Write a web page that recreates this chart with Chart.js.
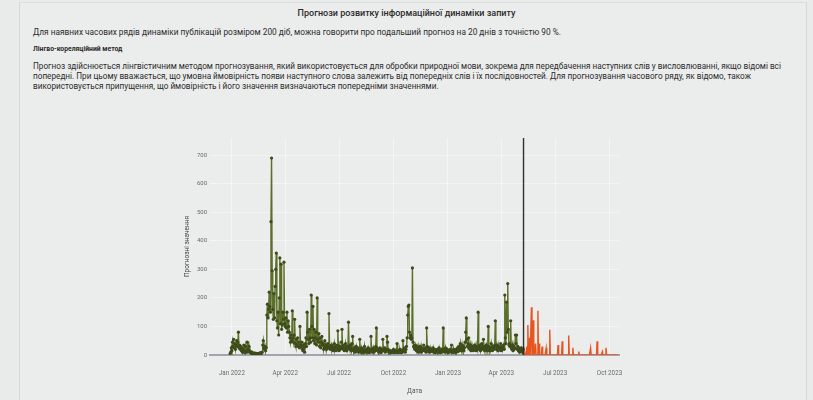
<!DOCTYPE html>
<html>
<head>
<meta charset="utf-8">
<script src="https://cdn.jsdelivr.net/npm/chart.js@4.4.1/dist/chart.umd.min.js"></script>
<style>
  body { margin:0; background:#e9eaea; width:813px; height:400px; overflow:hidden; font-family: Roboto, "Noto Sans", sans-serif; color:#2b2b2b; }
  .card { position:absolute; left:19px; top:2px; width:786px; height:398px; border-left:1px solid #d6d7d7; border-right:1px solid #d6d7d7; border-top:1px solid #dcdddd; background:#ebecec; }
  .t { position:absolute; white-space:nowrap; }
  #title { left:0; width:813px; text-align:center; top:8px; font-size:9px; font-weight:500; }
  #line1 { left:33px; top:27px; font-size:8.3px; }
  #method { left:33px; top:45px; font-size:6.8px; font-weight:700; }
  #para { left:33px; top:61px; font-size:8.2px; line-height:10px; }
  #wrap { position:absolute; left:160px; top:128px; width:480px; height:272px; }
</style>
</head>
<body>
<div class="card"></div>
<div class="t" id="title">Прогнози розвитку інформаційної динаміки запиту</div>
<div class="t" id="line1">Для наявних часових рядів динаміки публікацій розміром 200 діб, можна говорити про подальший прогноз на 20 днів з точністю 90 %.</div>
<div class="t" id="method">Лінгво-кореляційний метод</div>
<div class="t" id="para">Прогноз здійснюється лінгвістичним методом прогнозування, який використовується для обробки природної мови, зокрема для передбачення наступних слів у висловлюванні, якщо відомі всі<br>попередні. При цьому вважається, що умовна ймовірність появи наступного слова залежить від попередніх слів і їх послідовностей. Для прогнозування часового ряду, як відомо, також<br>використовується припущення, що ймовірність і його значення визначаються попередніми значеннями.</div>
<div id="wrap"><canvas id="myChart" width="480" height="272"></canvas></div>
<script>
// days counted from 2022-01-01
const greenStartDay = -3;
const greenValues = [
  5, 10, 25, 15, 45, 30, 55, 25, 40, 20,
  35, 50, 30, 45, 80, 25, 35, 20, 30, 15,
  25, 10, 20, 35, 15, 8, 30, 12, 10, 45,
  20, 15, 30, 10, 8, 12, 6, 5, 8, 4,
  6, 5, 7, 4, 6, 3, 5, 4, 6, 5,
  4, 8, 5, 6, 10, 35, 50, 25, 20, 30,
  15, 25, 140, 178, 130, 160, 220, 170, 150, 467,
  690, 295, 160, 125, 215, 130, 240, 300, 357, 120,
  95, 150, 70, 200, 340, 110, 318, 90, 105, 150,
  125, 325, 110, 100, 130, 95, 150, 80, 120, 100,
  80, 60, 45, 70, 50, 155, 60, 45, 70, 125,
  40, 30, 55, 35, 60, 30, 45, 25, 100, 35,
  30, 45, 20, 15, 35, 25, 10, 40, 60, 30,
  150, 80, 55, 40, 90, 60, 45, 210, 100, 60,
  170, 50, 90, 40, 60, 80, 35, 200, 55, 45,
  75, 30, 60, 25, 45, 65, 35, 40, 20, 30,
  50, 25, 35, 20, 30, 40, 25, 145, 30, 20,
  25, 35, 20, 30, 15, 25, 40, 20, 30, 15,
  20, 35, 85, 25, 15, 30, 20, 25, 45, 90,
  30, 20, 35, 15, 25, 40, 20, 15, 30, 25,
  115, 30, 20, 35, 25, 15, 40, 65, 20, 15,
  25, 10, 20, 30, 15, 20, 25, 10, 15, 55,
  20, 10, 25, 15, 8, 20, 12, 30, 10, 15,
  20, 10, 15, 25, 12, 8, 20, 15, 65, 20,
  10, 15, 25, 10, 20, 15, 30, 95, 25, 15,
  20, 10, 15, 25, 12, 8, 20, 15, 55, 20,
  15, 25, 10, 20, 15, 65, 45, 20, 10, 15,
  10, 15, 8, 12, 10, 15, 20, 8, 12, 10,
  15, 10, 40, 12, 8, 15, 10, 20, 12, 8,
  15, 10, 50, 20, 15, 25, 10, 20, 30, 60,
  140, 170, 175, 80, 60, 70, 55, 60, 305, 45,
  30, 25, 20, 35, 25, 15, 30, 20, 10, 25,
  15, 30, 20, 10, 25, 15, 20, 35, 15, 20,
  25, 10, 95, 30, 15, 20, 25, 10, 15, 20,
  12, 20, 15, 25, 10, 15, 20, 8, 12, 15,
  20, 10, 15, 25, 12, 8, 15, 20, 10, 15,
  95, 20, 15, 10, 25, 12, 15, 20, 8, 15,
  10, 15, 20, 12, 35, 10, 15, 8, 20, 12,
  15, 10, 20, 15, 25, 12, 20, 30, 15, 40,
  25, 15, 35, 20, 30, 15, 25, 45, 80, 130,
  55, 30, 40, 60, 25, 20, 35, 15, 30, 20,
  25, 15, 30, 35, 20, 25, 15, 30, 20, 150,
  30, 20, 35, 15, 25, 40, 20, 30, 55, 25,
  15, 30, 20, 35, 25, 15, 100, 30, 20, 15,
  25, 40, 20, 15, 30, 25, 20, 35, 120, 30,
  20, 35, 25, 15, 30, 20, 25, 40, 15, 20,
  30, 25, 35, 20, 210, 60, 40, 185, 80, 250,
  90, 35, 40, 30, 120, 25, 20, 35, 15, 30,
  20, 25, 70, 40, 70, 20, 30, 15, 25, 10,
  15, 20, 25, 15, 10, 20
];
const forecastStartDay = 493;
const forecastValues = [
  0, 0, 10, 0, 0, 30, 0, 105, 0, 0,
  60, 0, 0, 167, 0, 0, 122, 0, 0, 0,
  40, 0, 0, 0, 155, 0, 40, 0, 0, 0,
  0, 30, 0, 0, 0, 0, 0, 0, 25, 0,
  0, 0, 0, 0, 88, 0, 0, 0, 0, 0,
  0, 0, 0, 0, 0, 0, 0, 0, 35, 0,
  0, 0, 0, 0, 0, 48, 0, 0, 0, 0,
  0, 0, 0, 0, 0, 0, 68, 0, 0, 0,
  0, 0, 0, 25, 0, 0, 0, 0, 0, 0,
  0, 0, 0, 12, 0, 0, 0, 0, 0, 0,
  0, 0, 0, 0, 0, 0, 0, 0, 0, 0,
  0, 0, 0, 25, 0, 0, 0, 0, 0, 0,
  0, 0, 0, 0, 48, 0, 0, 0, 0, 0,
  0, 0, 0, 12, 0, 0, 0, 0, 0, 25,
  0, 0, 0, 0, 0, 0, 0, 0, 0, 0,
  0, 0, 0, 0, 0, 0, 0, 0, 0, 0, 0
];
const xTickDays = [0, 90, 181, 273, 365, 455, 546, 638];
const xTickLabels = ['Jan 2022', 'Apr 2022', 'Jul 2022', 'Oct 2022', 'Jan 2023', 'Apr 2023', 'Jul 2023', 'Oct 2023'];
const yTicks = [0, 100, 200, 300, 400, 500, 600, 700];

const greenPts = greenValues.map((v, i) => ({x: greenStartDay + i, y: v}));
const forecastPts = forecastValues.map((v, i) => ({x: forecastStartDay + i, y: v}));

// vertical line at forecast start
const splitLine = {
  id: 'splitLine',
  afterDatasetsDraw(chart) {
    const {ctx, chartArea: {top, bottom}, scales: {x}} = chart;
    const px = x.getPixelForValue(forecastStartDay - 0.3);
    ctx.save();
    ctx.beginPath();
    ctx.lineWidth = 1.4;
    ctx.strokeStyle = '#2e2e2e';
    ctx.moveTo(px, top);
    ctx.lineTo(px, bottom);
    ctx.stroke();
    ctx.restore();
  }
};

const config = {
  type: 'line',
  data: {
    datasets: [{
      label: 'history',
      data: greenPts,
      borderColor: '#5b6f2b',
      borderWidth: 1.4,
      pointRadius: 1.6,
      pointBackgroundColor: '#3e4c1c',
      pointBorderColor: '#3e4c1c',
      pointBorderWidth: 0,
      tension: 0
    }, {
      label: 'forecast',
      data: forecastPts,
      borderColor: '#e8541e',
      borderWidth: 1.4,
      pointRadius: 0,
      tension: 0
    }]
  },
  options: {
    responsive: false,
    animation: false,
    layout: {padding: {left: 18, right: 21, top: 10, bottom: 0}},
    scales: {
      x: {
        type: 'linear',
        min: -37,
        max: 654,
        afterBuildTicks: (s) => { s.ticks = xTickDays.map(v => ({value: v})); },
        afterFit: (s) => { s.height = 45; },
        ticks: {
          padding: 15,
          maxRotation: 0,
          autoSkip: false,
          color: '#6a6a6a',
          font: {size: 6.3, family: 'Roboto'},
          callback: (v) => xTickLabels[xTickDays.indexOf(v)]
        },
        grid: {color: 'rgba(255,255,255,0.45)', drawTicks: false},
        border: {color: '#a2a4b0', width: 2},
        title: {display: true, text: 'Дата', color: '#555', font: {size: 6.5, family: 'Roboto'}, padding: {top: 0, bottom: 5}}
      },
      y: {
        min: 0,
        max: 760,
        afterBuildTicks: (s) => { s.ticks = yTicks.map(v => ({value: v})); },
        afterFit: (s) => { s.width = 32; },
        ticks: {padding: 3, color: '#6a6a6a', font: {size: 6, family: 'Roboto'}},
        grid: {color: 'rgba(255,255,255,0.45)', drawTicks: false},
        border: {display: false},
        title: {display: true, text: 'Прогнозні значення', color: '#444', font: {size: 6.5, family: 'Roboto'}, padding: {top: 5, bottom: 2}}
      }
    },
    plugins: {legend: {display: false}, tooltip: {enabled: false}}
  },
  plugins: [splitLine]
};

const myChart = new Chart(document.getElementById('myChart'), config);
</script>
</body>
</html>
